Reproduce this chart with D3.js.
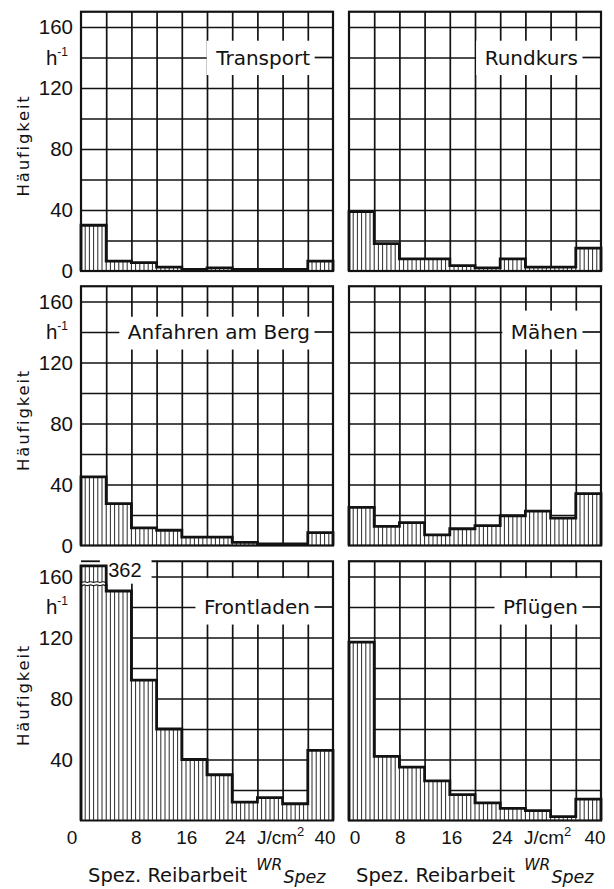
<!DOCTYPE html>
<html><head><meta charset="utf-8">
<script src="https://cdn.jsdelivr.net/npm/d3@7"></script>
<style>body{margin:0;background:#fff}</style>
</head><body>
<svg id="chart" width="614" height="889"></svg>
<script>
// ---------- data ----------
const binEdges = [0, 4, 8, 12, 16, 20, 24, 28, 32, 36, 40];
const panelNames = ["Transport", "Rundkurs", "Anfahren am Berg", "Mähen", "Frontladen", "Pflügen"];
const transport  = [30, 6.5, 5.5, 2.5, 1, 2, 1, 1, 1, 6.5];
const rundkurs   = [39, 18, 8, 8, 3.5, 2, 8, 2.5, 2.5, 15];
const anfahren   = [45, 27.5, 11.5, 10, 5.5, 5.5, 2, 1, 1, 8.5];
const maehen     = [25, 12.5, 15, 7, 11, 13, 19.5, 22.5, 18, 34];
const frontladen = [362, 150.5, 92, 60, 40, 30, 12, 15, 11, 46];
const pfluegen   = [117, 42, 35, 26, 17, 11.5, 8, 6.5, 2.5, 14];
const yTickValues = [0, 40, 80, 120, 160];
const yGridValues = [20, 40, 60, 80, 100, 120, 140, 160];
const unitValue = 140;
const xTickValues = [0, 8, 16, 24, 32, 40];
const xTickLabels = ["0", "8", "16", "24", "J/cm", "40"];
const yTitle = "Häufigkeit";
const xTitle = "Spez. Reibarbeit";
const xSymbol = "WR";
const xSubscript = "Spez";

// ---------- layout ----------
const svg = d3.select("#chart");
const INK = "#121212";
const panelValues = [transport, rundkurs, anfahren, maehen, frontladen, pfluegen];
const colRange = [[81, 333], [349, 601]];
const rowZero = [271, 545.5, 820.5];
const plotH = 259.25;     // height for 170 units
const yTop = 170;
const clipMax = 167;
const breakAt = 155.3;
const boxTopVal = [151, 151, 150, 154, 159, 159];
const boxBotVal = 128.5;
const DIGITS = "'Liberation Sans', Arial, sans-serif";
const TEXT = "'DejaVu Sans', sans-serif";

panelValues.forEach((vals, i) => {
  const col = i % 2, row = Math.floor(i / 2);
  const x = d3.scaleLinear().domain([0, 40]).range(colRange[col]);
  const y = d3.scaleLinear().domain([0, yTop]).range([rowZero[row], rowZero[row] - plotH]);
  const w = x(40) - x(0), h = y(0) - y(yTop);
  const g = svg.append("g");

  // grid (horizontal)
  const gy = g.append("g").attr("transform", `translate(${x(0)},0)`)
    .call(d3.axisLeft(y).tickValues(yGridValues).tickSize(-w).tickFormat(""));
  gy.select(".domain").remove();
  gy.selectAll(".tick line").attr("stroke", INK).attr("stroke-width", 1.7);
  // grid (vertical)
  const gx = g.append("g").attr("transform", `translate(0,${y(0)})`)
    .call(d3.axisBottom(x).tickValues(binEdges.slice(1, -1)).tickSize(-h).tickFormat(""));
  gx.select(".domain").remove();
  gx.selectAll(".tick line").attr("stroke", INK).attr("stroke-width", 1.7);

  // panel label with white box
  const lbl = g.append("text")
    .attr("x", x(40) - 23).attr("y", y(unitValue)).attr("dy", "0.37em")
    .attr("text-anchor", "end").attr("font-family", TEXT).attr("font-size", 20)
    .attr("fill", INK).text(panelNames[i]);
  const bb = lbl.node().getBBox();
  g.insert("rect", () => lbl.node())
    .attr("x", bb.x - 8.5).attr("width", x(40) - (bb.x - 8.5))
    .attr("y", y(boxTopVal[i])).attr("height", y(boxBotVal) - y(boxTopVal[i]))
    .attr("fill", "#fff");
  g.append("line")
    .attr("x1", bb.x + bb.width + 4.5).attr("x2", x(40))
    .attr("y1", y(unitValue)).attr("y2", y(unitValue))
    .attr("stroke", INK).attr("stroke-width", 1.7);

  const broken = vals.some(v => v > clipMax);
  if (broken) {
    g.append("rect")
      .attr("x", x(0) - 3).attr("width", x(11.2) - x(0) + 3)
      .attr("y", y(yTop) - 3).attr("height", y(breakAt) - y(yTop) + 3)
      .attr("fill", "#fff");
  }

  // bars
  const bins = vals.map((v, k) => ({ x0: binEdges[k], x1: binEdges[k + 1], v: Math.min(v, clipMax), raw: v }));
  g.selectAll("rect.bar").data(bins).join("rect").attr("class", "bar")
    .attr("x", d => x(d.x0)).attr("width", d => x(d.x1) - x(d.x0))
    .attr("y", d => y(d.v)).attr("height", d => y(0) - y(d.v))
    .attr("fill", "#fff");
  const hatch = bins.flatMap(d => d3.range(1, 6).map(k => ({ xv: d.x0 + k * (d.x1 - d.x0) / 6, v: d.v })))
    .concat(bins.slice(1).map(d => ({ xv: d.x0, v: d.v })));
  g.selectAll("line.hatch").data(hatch).join("line").attr("class", "hatch")
    .attr("x1", d => x(d.xv)).attr("x2", d => x(d.xv))
    .attr("y1", y(0)).attr("y2", d => y(d.v))
    .attr("stroke", "#2a2a2a").attr("stroke-width", 1);

  // step outline
  const pts = [[0, 0]].concat(bins.map(d => [d.x0, d.v])).concat([[40, bins[bins.length - 1].v], [40, 0]]);
  g.append("path")
    .attr("d", d3.line().x(p => x(p[0])).y(p => y(p[1])).curve(d3.curveStepAfter)(pts))
    .attr("fill", "none").attr("stroke", INK).attr("stroke-width", 2.8).attr("stroke-linejoin", "miter");

  // border
  if (broken) {
    g.append("path")
      .attr("d", `M${x(0)},${y(bins[0].v)}V${y(0)}H${x(40)}V${y(yTop)}H${x(11.2)}`)
      .attr("fill", "none").attr("stroke", INK).attr("stroke-width", 2.2);
    const yb = y(breakAt);
    g.append("rect").attr("x", x(0) + 1.4).attr("width", x(4) - x(0) - 2.8)
      .attr("y", yb - 1.6).attr("height", 3.2).attr("fill", "#fff");
    [-1.6, 1.6].forEach(off => {
      const wave = d3.range(0, 9).map(k => [x(0) + k * (x(4) - x(0)) / 8, yb + off + (k % 2 ? -1.1 : 1.1)]);
      g.append("path").attr("d", d3.line().curve(d3.curveBasis)(wave))
        .attr("fill", "none").attr("stroke", INK).attr("stroke-width", 1.1);
    });
    g.append("line").attr("x1", x(0)).attr("x2", x(3)).attr("y1", y(yTop)).attr("y2", y(yTop))
      .attr("stroke", INK).attr("stroke-width", 1.8);
    g.append("text").attr("x", x(4) + 2).attr("y", y(160))
      .attr("font-family", DIGITS).attr("font-size", 20).attr("fill", INK)
      .text(String(bins[0].raw));
  } else {
    g.append("rect").attr("x", x(0)).attr("y", y(yTop)).attr("width", w).attr("height", h)
      .attr("fill", "none").attr("stroke", INK).attr("stroke-width", 2.2);
  }

  // y labels (left column)
  if (col === 0) {
    const tv = row === 2 ? yTickValues.filter(v => v > 0) : yTickValues;
    g.selectAll("text.ytick").data(tv).join("text").attr("class", "ytick")
      .attr("x", x(0) - 8).attr("y", d => y(d)).attr("dy", "0.36em")
      .attr("text-anchor", "end").attr("font-family", DIGITS).attr("font-size", 20.5)
      .attr("fill", INK).text(d => d);
    const u = g.append("text").attr("x", x(0) - 13).attr("y", y(unitValue)).attr("dy", "0.36em")
      .attr("text-anchor", "end").attr("font-family", DIGITS).attr("font-size", 20.5).attr("fill", INK);
    u.append("tspan").text("h");
    u.append("tspan").attr("font-size", 12).attr("dy", "-0.75em").text("-1");
    g.append("text")
      .attr("transform", `translate(28.5,${(y(0) + y(yTop)) / 2 + 4}) rotate(-90)`)
      .attr("text-anchor", "middle").attr("font-family", TEXT).attr("font-size", 16.5)
      .attr("letter-spacing", 1.8).attr("fill", INK).text(yTitle);
  }

  // x labels (bottom row)
  if (row === 2) {
    const dxs = col === 0 ? [-9, 5, 5, 3, -2, -8] : [6, 1, 2, 2, -3, -6];
    xTickValues.forEach((v, k) => {
      const t = g.append("text").attr("x", x(v) + dxs[k]).attr("y", y(0) + 23)
        .attr("text-anchor", "middle").attr("font-family", DIGITS).attr("font-size", 19)
        .attr("fill", INK);
      t.append("tspan").text(xTickLabels[k]);
      if (xTickLabels[k] === "J/cm") t.append("tspan").attr("font-size", 13).attr("dy", "-0.6em").text("2");
    });
    const tt = g.append("text").attr("x", x(0) + 7).attr("y", y(0) + 61)
      .attr("font-family", TEXT).attr("font-size", 19.5).attr("fill", INK);
    tt.append("tspan").text(xTitle);
    tt.append("tspan").attr("dx", 9).attr("dy", -12).attr("font-size", 15.5).attr("font-style", "italic").text(xSymbol);
    tt.append("tspan").attr("dx", 1).attr("dy", 13.5).attr("font-size", 17.5).attr("font-style", "italic").text(xSubscript);
  }
});
</script>
</body></html>
